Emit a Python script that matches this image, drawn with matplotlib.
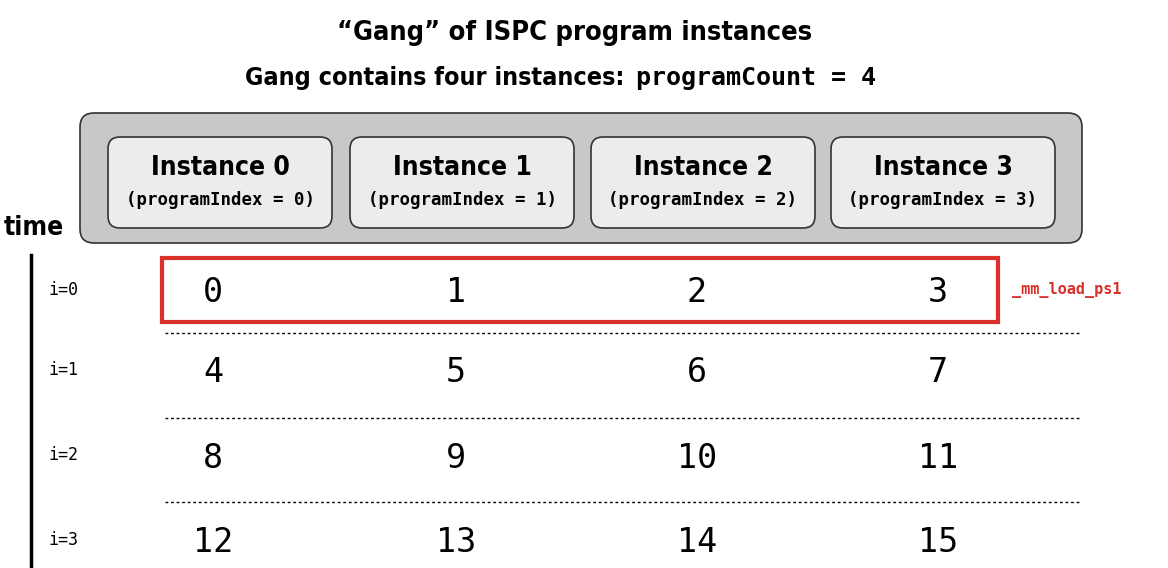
import matplotlib
matplotlib.use('Agg')
import matplotlib.pyplot as plt
from matplotlib.patches import FancyBboxPatch, Rectangle

title1 = '\u201cGang\u201d of ISPC program instances'
title2_a = 'Gang contains four instances: '
title2_b = 'programCount = 4'
instances = ['Instance 0', 'Instance 1', 'Instance 2', 'Instance 3']
indices = ['(programIndex = 0)', '(programIndex = 1)', '(programIndex = 2)', '(programIndex = 3)']
row_labels = ['i=0', 'i=1', 'i=2', 'i=3']
values = [[0, 1, 2, 3], [4, 5, 6, 7], [8, 9, 10, 11], [12, 13, 14, 15]]
red_label = '_mm_load_ps1'

cond = dict(family=['DejaVu Sans'], stretch='condensed', fontweight='bold')
mono = dict(family=['DejaVu Sans Mono'])

fig = plt.figure(figsize=(11.68, 5.68), dpi=100)
ax = fig.add_axes([0, 0, 1, 1])
ax.set_xlim(0, 1168)
ax.set_ylim(568, 0)
ax.axis('off')

ax.text(575, 33, title1, ha='center', va='center', fontsize=19.5, **cond)
ax.text(632, 78, title2_a, ha='right', va='center', fontsize=18, **cond)
ax.text(636, 78, title2_b, ha='left', va='center', fontsize=18, fontweight='bold', **mono)

ax.add_patch(FancyBboxPatch((80, 113), 1002, 130, boxstyle='round,pad=0,rounding_size=14',
                            fc='#c8c8c8', ec='#333333', lw=1.2))
box_x = [108, 350, 591, 831]
for x, name, idx in zip(box_x, instances, indices):
    ax.add_patch(FancyBboxPatch((x, 137), 224, 91, boxstyle='round,pad=0,rounding_size=12',
                                fc='#ececec', ec='#333333', lw=1.2))
    ax.text(x + 112, 168, name, ha='center', va='center', fontsize=19, **cond)
    ax.text(x + 112, 200, idx, ha='center', va='center', fontsize=12.5, fontweight='bold', **mono)

ax.text(4, 228, 'time', ha='left', va='center', fontsize=19, **cond)
ax.plot([31, 31], [255, 568], color='black', lw=2.5)

col_x = [213, 456, 697, 938]
row_y = [293, 373, 458, 543]
for lab, y, row in zip(row_labels, row_y, values):
    ax.text(48, y - 3, lab, ha='left', va='center', fontsize=12, **mono)
    for x, v in zip(col_x, row):
        ax.text(x, y, str(v), ha='center', va='center', fontsize=24, **mono)

for y in [333, 418, 502]:
    ax.plot([165, 1080], [y, y], color='black', lw=1, ls=(0, (2, 2)))

ax.add_patch(Rectangle((162, 258), 836, 64, fill=False, ec='#d9302a', lw=3))
ax.text(1012, 290, red_label, ha='left', va='center', color='#d9302a', fontsize=11,
        fontweight='bold', **mono)

fig.savefig('out.png', dpi=100)
